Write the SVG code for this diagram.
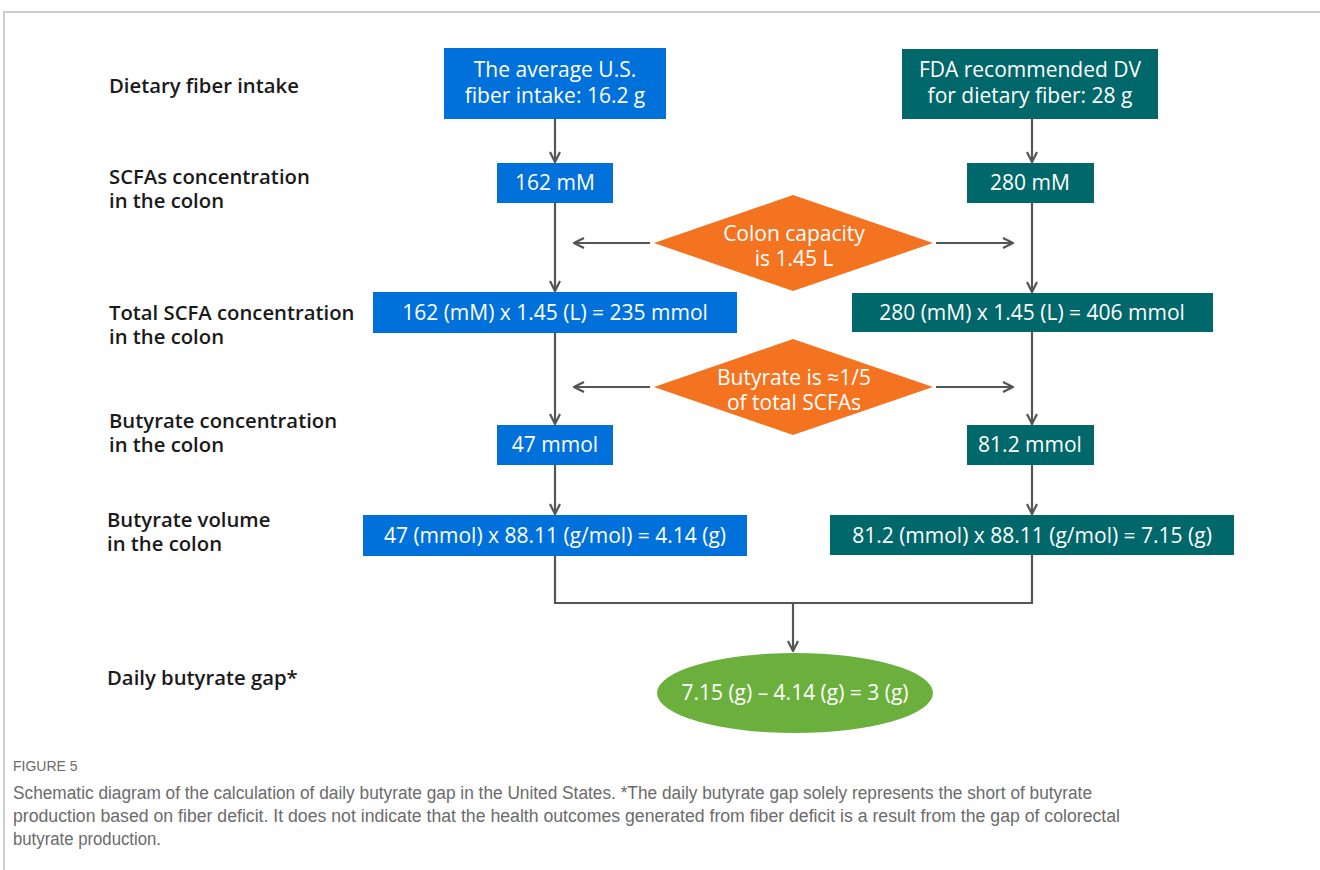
<svg xmlns="http://www.w3.org/2000/svg" width="1320" height="870" viewBox="0 0 1320 870">
<style>
.lbl{font-family:"Open Sans","Noto Sans",sans-serif;font-weight:600;font-size:20.3px;fill:#1a1a1a}
.bt{font-family:"Open Sans","Noto Sans",sans-serif;font-size:21px;fill:#ffffff;text-anchor:middle}
.blue{fill:#0071db}
.teal{fill:#00676a}
.orange{fill:#f47321}
.green{fill:#6bb03c}
.ln{stroke:#555555;stroke-width:2.2;fill:none}
.cap{font-family:"Liberation Sans",Arial,sans-serif;fill:#6b6b6b}
</style>
<defs>
<marker id="ah2" viewBox="0 0 12 12" refX="11" refY="6" markerWidth="12" markerHeight="12" markerUnits="userSpaceOnUse" orient="auto">
<path d="M1,1 L11,6 L1,11" fill="none" stroke="#555555" stroke-width="2.2"/>
</marker>
</defs>
<rect width="1320" height="870" fill="#ffffff"/>
<path d="M4,870 V12 H1320" fill="none" stroke="#bdbdbd" stroke-width="1.5"/>

<g id="labels">
<text class="lbl" x="109" y="93">Dietary fiber intake</text>
<text class="lbl" x="109" y="184">SCFAs concentration</text>
<text class="lbl" x="109" y="208">in the colon</text>
<text class="lbl" x="109" y="320">Total SCFA concentration</text>
<text class="lbl" x="109" y="344">in the colon</text>
<text class="lbl" x="109" y="428">Butyrate concentration</text>
<text class="lbl" x="109" y="452">in the colon</text>
<text class="lbl" x="107" y="527">Butyrate volume</text>
<text class="lbl" x="107" y="551">in the colon</text>
<text class="lbl" x="107" y="685">Daily butyrate gap*</text>
</g>

<g id="connectors">
<line class="ln" x1="555" y1="119" x2="555" y2="162" marker-end="url(#ah2)"/>
<line class="ln" x1="1032" y1="119" x2="1032" y2="162" marker-end="url(#ah2)"/>
<line class="ln" x1="555" y1="203" x2="555" y2="291" marker-end="url(#ah2)"/>
<line class="ln" x1="1032" y1="203" x2="1032" y2="292" marker-end="url(#ah2)"/>
<line class="ln" x1="650" y1="243" x2="574" y2="243" marker-end="url(#ah2)"/>
<line class="ln" x1="936" y1="243" x2="1013" y2="243" marker-end="url(#ah2)"/>
<line class="ln" x1="555" y1="333" x2="555" y2="424" marker-end="url(#ah2)"/>
<line class="ln" x1="1032" y1="332" x2="1032" y2="424" marker-end="url(#ah2)"/>
<line class="ln" x1="650" y1="387" x2="574" y2="387" marker-end="url(#ah2)"/>
<line class="ln" x1="936" y1="387" x2="1013" y2="387" marker-end="url(#ah2)"/>
<line class="ln" x1="555" y1="465" x2="555" y2="514" marker-end="url(#ah2)"/>
<line class="ln" x1="1032" y1="465" x2="1032" y2="514" marker-end="url(#ah2)"/>
<path class="ln" d="M555,556 V603 H1032 V555"/>
<line class="ln" x1="793" y1="603" x2="793" y2="651" marker-end="url(#ah2)"/>
</g>

<g id="n-avg">
<rect class="blue" x="444" y="48" width="222" height="71"/>
<text class="bt" x="555" y="77">The average U.S.</text>
<text class="bt" x="555" y="103">fiber intake: 16.2 g</text>
</g>
<g id="n-fda">
<rect class="teal" x="902" y="49" width="256" height="70"/>
<text class="bt" x="1030" y="77">FDA recommended DV</text>
<text class="bt" x="1030" y="103">for dietary fiber: 28 g</text>
</g>
<g id="n-162">
<rect class="blue" x="497" y="163" width="116" height="40"/>
<text class="bt" x="555" y="190">162 mM</text>
</g>
<g id="n-280">
<rect class="teal" x="967" y="163" width="127" height="40"/>
<text class="bt" x="1030" y="190">280 mM</text>
</g>
<g id="n-capacity">
<polygon class="orange" points="793,195 933,243 793,291 654,243"/>
<text class="bt" x="794" y="241">Colon capacity</text>
<text class="bt" x="794" y="266">is 1.45 L</text>
</g>
<g id="n-235">
<rect class="blue" x="373" y="292" width="364" height="41"/>
<text class="bt" x="555" y="320">162 (mM) x 1.45 (L) = 235 mmol</text>
</g>
<g id="n-406">
<rect class="teal" x="852" y="293" width="361" height="39"/>
<text class="bt" x="1032" y="320">280 (mM) x 1.45 (L) = 406 mmol</text>
</g>
<g id="n-fifth">
<polygon class="orange" points="793,339 933,387 793,435 654,387"/>
<text class="bt" x="794" y="385">Butyrate is ≈1/5</text>
<text class="bt" x="794" y="410">of total SCFAs</text>
</g>
<g id="n-47">
<rect class="blue" x="497" y="425" width="116" height="40"/>
<text class="bt" x="555" y="452">47 mmol</text>
</g>
<g id="n-81">
<rect class="teal" x="967" y="425" width="127" height="40"/>
<text class="bt" x="1030" y="452">81.2 mmol</text>
</g>
<g id="n-414">
<rect class="blue" x="363" y="515" width="384" height="41"/>
<text class="bt" x="555" y="543">47 (mmol) x 88.11 (g/mol) = 4.14 (g)</text>
</g>
<g id="n-715">
<rect class="teal" x="830" y="515" width="404" height="40"/>
<text class="bt" x="1032" y="543">81.2 (mmol) x 88.11 (g/mol) = 7.15 (g)</text>
</g>
<g id="n-gap">
<ellipse class="green" cx="795" cy="693" rx="138" ry="40"/>
<text class="bt" x="795" y="700">7.15 (g) – 4.14 (g) = 3 (g)</text>
</g>

<g id="caption">
<text class="cap" x="13" y="771" font-size="14">FIGURE 5</text>
<text class="cap" x="13" y="799" font-size="18" textLength="1079" lengthAdjust="spacingAndGlyphs">Schematic diagram of the calculation of daily butyrate gap in the United States. *The daily butyrate gap solely represents the short of butyrate</text>
<text class="cap" x="13" y="822" font-size="18" textLength="1107" lengthAdjust="spacingAndGlyphs">production based on fiber deficit. It does not indicate that the health outcomes generated from fiber deficit is a result from the gap of colorectal</text>
<text class="cap" x="13" y="845" font-size="18" textLength="148" lengthAdjust="spacingAndGlyphs">butyrate production.</text>
</g>
</svg>
